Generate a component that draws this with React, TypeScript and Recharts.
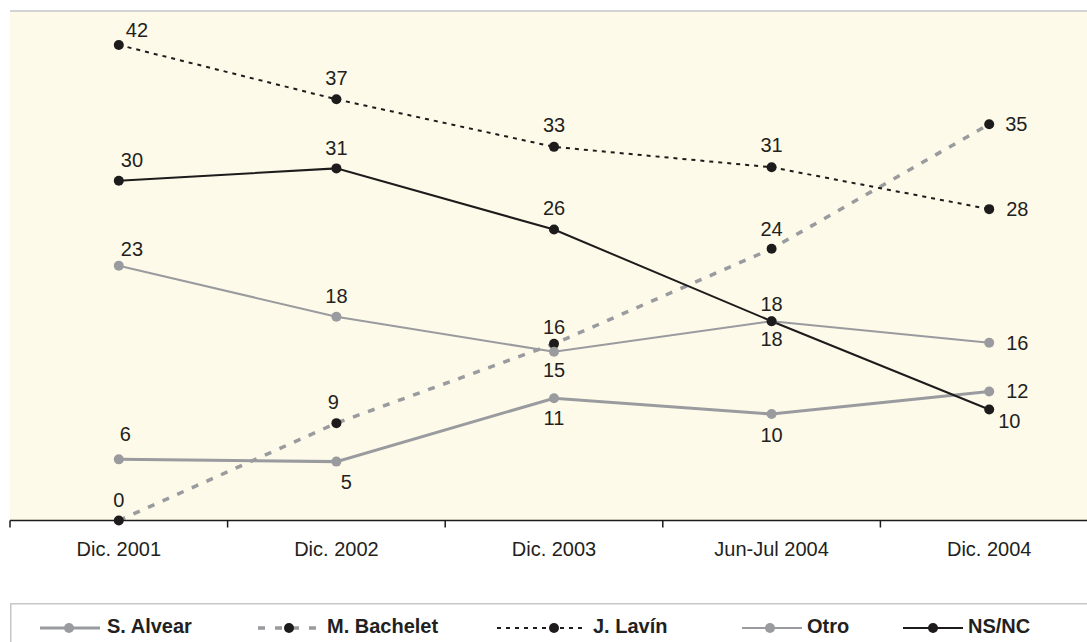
import { LineChart, Line, XAxis, YAxis, CartesianGrid, ReferenceLine, LabelList } from 'recharts';

const CATEGORIES = ['Dic. 2001', 'Dic. 2002', 'Dic. 2003', 'Jun-Jul 2004', 'Dic. 2004'];

// plotted values (read from point positions) and the printed labels
const ALVEAR = [5.4, 5.2, 10.8, 9.4, 11.4];
const BACHELET = [0, 8.6, 15.6, 24.0, 35.0];
const LAVIN = [42.0, 37.2, 33.0, 31.2, 27.5];
const OTRO = [22.5, 18.0, 14.9, 17.6, 15.7];
const NSNC = [30.0, 31.1, 25.7, 17.6, 9.8];

const ALVEAR_LABELS = ['6', '5', '11', '10', '12'];
const BACHELET_LABELS = ['0', '9', '16', '24', '35'];
const LAVIN_LABELS = ['42', '37', '33', '31', '28'];
const OTRO_LABELS = ['23', '18', '15', '18', '16'];
const NSNC_LABELS = ['30', '31', '26', '18', '10'];

const data = CATEGORIES.map((cat, i) => ({
  cat,
  alvear: ALVEAR[i],
  bachelet: BACHELET[i],
  lavin: LAVIN[i],
  otro: OTRO[i],
  nsnc: NSNC[i],
}));

const FONT = '"Liberation Sans", Arial, sans-serif';
const GRAY = '#9a9b9f';
const BLACK = '#1d1b1c';
const TEXT = '#231f20';
const BORDER = '#c6c6c6';

const CHART_W = 1110;
const MARGIN_L = 10;
const MARGIN_R = 12;
const BAND = (CHART_W - MARGIN_L - MARGIN_R) / CATEGORIES.length;

type Pos = [number, number, 'start' | 'middle'];

// label offsets from each dot: dx, dy, anchor
const ALVEAR_POS: Pos[] = [[1, -25, 'start'], [10, 20, 'middle'], [0, 20, 'middle'], [0, 21, 'middle'], [17, 0, 'start']];
const BACHELET_POS: Pos[] = [[0, -21, 'middle'], [-3, -21, 'middle'], [0, -17, 'middle'], [0, -20, 'middle'], [16, 0, 'start']];
const LAVIN_POS: Pos[] = [[7, -15, 'start'], [0, -21, 'middle'], [0, -22, 'middle'], [0, -22, 'middle'], [17, 0, 'start']];
const OTRO_POS: Pos[] = [[2, -17, 'start'], [0, -21, 'middle'], [0, 18, 'middle'], [0, 18, 'middle'], [17, 0, 'start']];
const NSNC_POS: Pos[] = [[2, -21, 'start'], [0, -20, 'middle'], [0, -22, 'middle'], [0, -17, 'middle'], [9, 11, 'start']];

const makeLabel = (texts: string[], pos: Pos[]) => (props: any) => {
  const { x, y, index } = props;
  const [dx, dy, anchor] = pos[index];
  return (
    <text
      x={x + dx}
      y={y + dy}
      textAnchor={anchor}
      dominantBaseline="central"
      fontSize={20}
      fontFamily={FONT}
      fill={TEXT}
    >
      {texts[index]}
    </text>
  );
};

function CatTick(props: any) {
  const { x, y, payload, index } = props;
  const last = index === CATEGORIES.length - 1;
  return (
    <g>
      <line x1={x - BAND / 2} x2={x - BAND / 2} y1={y} y2={y + 7} stroke={BLACK} strokeWidth={1.5} />
      {last && <line x1={x + BAND / 2} x2={x + BAND / 2} y1={y} y2={y + 7} stroke={BLACK} strokeWidth={1.5} />}
      <text x={x} y={y + 35.5} textAnchor="middle" fontSize={20} fontFamily={FONT} fill={TEXT}>
        {payload.value}
      </text>
    </g>
  );
}

const LEGEND = [
  { name: 'S. Alvear', x1: 40, x2: 100, cx: 69, tx: 107, stroke: GRAY, width: 3, dash: undefined, dot: GRAY },
  { name: 'M. Bachelet', x1: 258, x2: 318, cx: 289, tx: 327, stroke: GRAY, width: 3.5, dash: '7 10', dot: BLACK },
  { name: 'J. Lavín', x1: 497, x2: 583, cx: 554, tx: 593, stroke: BLACK, width: 2, dash: '4 5', dot: BLACK },
  { name: 'Otro', x1: 742, x2: 802, cx: 770, tx: 807, stroke: GRAY, width: 2, dash: undefined, dot: GRAY },
  { name: 'NS/NC', x1: 903, x2: 963, cx: 933, tx: 968, stroke: BLACK, width: 2, dash: undefined, dot: BLACK },
];

function LegendBox() {
  return (
    <svg width={1087} height={39} style={{ position: 'absolute', left: 0, top: 603 }}>
      <line x1={10} x2={1087} y1={0.75} y2={0.75} stroke={BORDER} strokeWidth={1.5} />
      <line x1={10.75} x2={10.75} y1={0} y2={39} stroke={BORDER} strokeWidth={1.5} />
      {LEGEND.map((l) => (
        <g key={l.name}>
          <line x1={l.x1} x2={l.x2} y1={25} y2={25} stroke={l.stroke} strokeWidth={l.width} strokeDasharray={l.dash} />
          <circle cx={l.cx} cy={25} r={5} fill={l.dot} />
          <text x={l.tx} y={30} fontSize={20} fontWeight="bold" fontFamily={FONT} fill={TEXT}>
            {l.name}
          </text>
        </g>
      ))}
    </svg>
  );
}

export default function App() {
  return (
    <div
      style={{
        position: 'absolute',
        left: 0,
        top: 0,
        width: 1087,
        height: 642,
        overflow: 'hidden',
        background: '#fff',
        fontFamily: FONT,
      }}
    >
      <LineChart
        width={CHART_W}
        height={603}
        data={data}
        margin={{ top: 11, right: MARGIN_R, left: MARGIN_L, bottom: 42.5 }}
      >
        <CartesianGrid fill="#fefae9" horizontal={false} vertical={false} />
        <XAxis
          dataKey="cat"
          padding={{ left: BAND / 2, right: BAND / 2 }}
          height={40}
          interval={0}
          tickSize={0}
          tickMargin={0}
          tickLine={false}
          axisLine={{ stroke: BLACK, strokeWidth: 1.5 }}
          tick={<CatTick />}
        />
        <YAxis
          domain={[0, 45]}
          width={0}
          tick={false}
          tickLine={false}
          axisLine={{ stroke: BORDER, strokeWidth: 1.5 }}
        />
        <ReferenceLine y={45} stroke={BORDER} strokeWidth={1.5} />

        <Line
          dataKey="alvear"
          stroke={GRAY}
          strokeWidth={3}
          dot={{ r: 5, fill: GRAY, stroke: 'none' }}
          activeDot={false}
          isAnimationActive={false}
        >
          <LabelList dataKey="alvear" content={makeLabel(ALVEAR_LABELS, ALVEAR_POS)} />
        </Line>
        <Line
          dataKey="bachelet"
          stroke={GRAY}
          strokeWidth={3.5}
          strokeDasharray="7 9"
          dot={{ r: 5, fill: BLACK, stroke: 'none' }}
          activeDot={false}
          isAnimationActive={false}
        >
          <LabelList dataKey="bachelet" content={makeLabel(BACHELET_LABELS, BACHELET_POS)} />
        </Line>
        <Line
          dataKey="lavin"
          stroke={BLACK}
          strokeWidth={2}
          strokeDasharray="4 5"
          dot={{ r: 5, fill: BLACK, stroke: 'none' }}
          activeDot={false}
          isAnimationActive={false}
        >
          <LabelList dataKey="lavin" content={makeLabel(LAVIN_LABELS, LAVIN_POS)} />
        </Line>
        <Line
          dataKey="otro"
          stroke={GRAY}
          strokeWidth={2}
          dot={{ r: 5, fill: GRAY, stroke: 'none' }}
          activeDot={false}
          isAnimationActive={false}
        >
          <LabelList dataKey="otro" content={makeLabel(OTRO_LABELS, OTRO_POS)} />
        </Line>
        <Line
          dataKey="nsnc"
          stroke={BLACK}
          strokeWidth={2}
          dot={{ r: 5, fill: BLACK, stroke: 'none' }}
          activeDot={false}
          isAnimationActive={false}
        >
          <LabelList dataKey="nsnc" content={makeLabel(NSNC_LABELS, NSNC_POS)} />
        </Line>
      </LineChart>
      <LegendBox />
    </div>
  );
}
